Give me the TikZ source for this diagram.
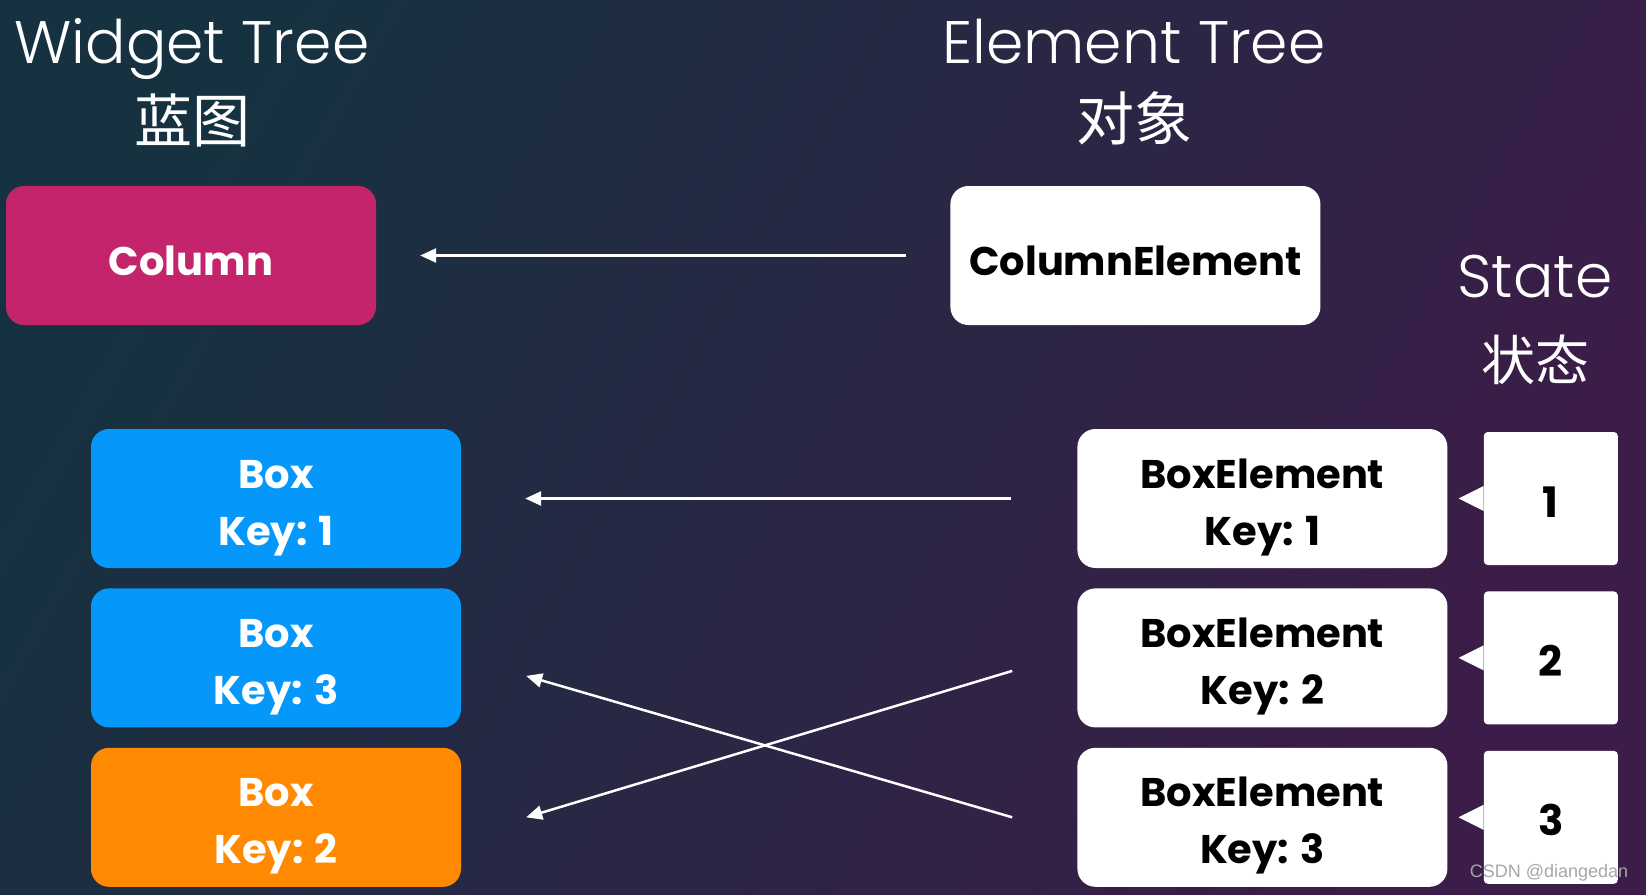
\documentclass[tikz,border=0pt]{standalone}
\usepackage{fontspec}
\setmainfont{Poppins}
\newfontfamily\titlefont{Poppins Light}
\newfontfamily\cjkfont{Noto Sans CJK SC}
\newfontfamily\markfont{Liberation Sans}
\usepackage{tikz}
\usetikzlibrary{arrows.meta, positioning}
\definecolor{bgteal}{RGB}{22,50,64}
\definecolor{bgpurple}{RGB}{60,28,72}
\definecolor{colmagenta}{RGB}{196,36,108}
\definecolor{boxblue}{RGB}{5,152,250}
\definecolor{boxorange}{RGB}{255,137,0}
\newcommand{\twolines}[2]{\begin{tabular}[b]{@{}c@{}}#1\\#2\end{tabular}}

\begin{document}
\begin{tikzpicture}[
    x=1pt, y=1pt,
    node distance=20pt and 20pt,
    widget/.style={rectangle, fill=#1, text=white, minimum width=370pt, minimum height=139pt, rounded corners=18pt, inner sep=0pt, text height=39pt, text depth=0pt, font=\fontsize{40}{57}\selectfont\bfseries},
    element/.style={rectangle, fill=white, text=black, minimum width=370pt, minimum height=139pt, rounded corners=18pt, inner sep=0pt, text height=39pt, text depth=0pt, font=\fontsize{40}{57}\selectfont\bfseries},
    pair/.style={text height=93pt, text depth=0pt},
    statebox/.style={rectangle, fill=white, text=black, minimum width=134pt, minimum height=133pt, rounded corners=4pt, inner sep=0pt, text height=37pt, text depth=0pt, font=\fontsize{42}{50}\selectfont\bfseries},
    title/.style={text=white, font=\titlefont\fontsize{60}{66}\selectfont},
    cntitle/.style={text=white, font=\cjkfont\fontsize{58}{62}\selectfont},
    arrow/.style={-{Triangle[length=16pt, width=14pt]}, line width=2.5pt, draw=white},
]
\useasboundingbox (0,0) rectangle (1646,-894);

% Background
\shade[shading=axis, top color=bgteal, bottom color=bgpurple, shading angle=60] (0,0) rectangle (1646,-894);

% Titles
\node[title, anchor=base] (wtitle) at (192,-63) {Widget Tree};
\node[cntitle] (wtitlecn) at (192,-120) {蓝图};
\node[title, anchor=base] (etitle) at (1134,-63) {Element Tree};
\node[cntitle] (etitlecn) at (1134,-118) {对象};
\node[title, anchor=base] (stitle) at (1535,-297) {State};
\node[cntitle, font=\cjkfont\fontsize{54}{60}\selectfont] (stitlecn) at (1535,-360) {状态};

% Widget tree
\node[widget=colmagenta] (column) at (191,-255.5) {Column};
\node[widget=boxblue, pair] (box1) at (276,-498.5) {\twolines{Box}{Key: 1}};
\node[widget=boxblue, pair, below=of box1] (box3) {\twolines{Box}{Key: 3}};
\node[widget=boxorange, pair, below=of box3] (box2) {\twolines{Box}{Key: 2}};

% Element tree
\node[element, right=574pt of column] (colel) {ColumnElement};
\node[element, pair, right=616pt of box1] (boxel1) {\twolines{BoxElement}{Key: 1}};
\node[element, pair, below=of boxel1] (boxel2) {\twolines{BoxElement}{Key: 2}};
\node[element, pair, below=of boxel2] (boxel3) {\twolines{BoxElement}{Key: 3}};

% State
\node[statebox, right=36pt of boxel1] (state1) {1};
\node[statebox, right=36pt of boxel2] (state2) {2};
\node[statebox, right=36pt of boxel3] (state3) {3};
\foreach \s in {state1,state2,state3}
    \fill[white] ([yshift=12.5pt]\s.west) -- ++(-25pt,-12.5pt) -- ([yshift=-12.5pt]\s.west) -- cycle;

% Arrows
\draw[arrow, shorten <=44pt, shorten >=44pt] (colel) -- (column);
\draw[arrow, shorten <=66pt, shorten >=64pt] (boxel1) -- (box1);
\draw[arrow] ([xshift=-65pt, yshift=-13pt]boxel2.west) -- ([xshift=65pt]box2.east);
\draw[arrow] ([xshift=-65pt]boxel3.west) -- ([xshift=65pt, yshift=-18pt]box3.east);

\node[font=\markfont\fontsize{18}{20}\selectfont, text=gray!70] (watermark) at (1549,-873) {CSDN @diangedan};

\end{tikzpicture}
\end{document}
